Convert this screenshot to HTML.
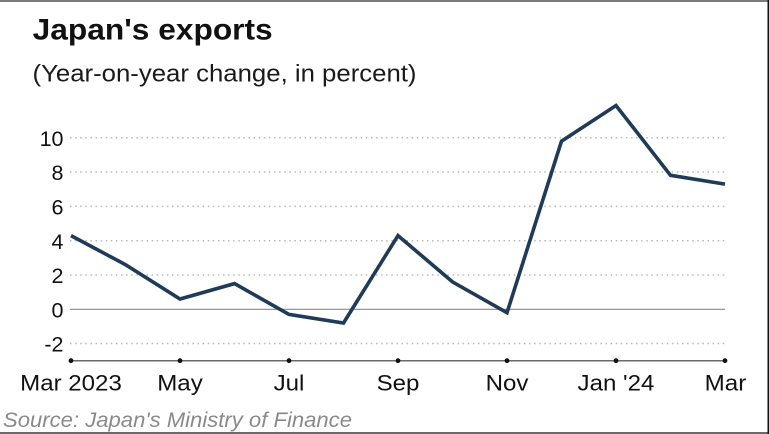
<!DOCTYPE html>
<html>
<head>
<meta charset="utf-8">
<style>
  html, body { margin: 0; padding: 0; background: #fff; }
  body { width: 769px; height: 434px; overflow: hidden; }
  svg { display: block; }
  text { font-family: "Liberation Sans", Arial, sans-serif; }
</style>
</head>
<body>
<svg width="769" height="434" viewBox="0 0 769 434" xmlns="http://www.w3.org/2000/svg">
  <rect x="0" y="0" width="769" height="434" fill="#fff"/>
  <!-- frame lines -->
  <rect x="0" y="0" width="769" height="2" fill="#7a7a7a"/>
  <rect x="0" y="432" width="769" height="2" fill="#6a6a6a"/>
  <rect x="767.5" y="0" width="1.5" height="434" fill="#111"/>

  <!-- title -->
  <text x="32.7" y="39.5" font-size="29.6" font-weight="bold" fill="#111" textLength="240" lengthAdjust="spacingAndGlyphs">Japan's exports</text>
  <text x="32.5" y="81.5" font-size="24" fill="#1a1a1a" textLength="384" lengthAdjust="spacingAndGlyphs">(Year-on-year change, in percent)</text>

  <!-- dotted gridlines -->
  <g stroke="#b8b8b8" stroke-width="1.5" stroke-dasharray="1.5 3.6" fill="none">
    <line x1="70" y1="137.8" x2="725" y2="137.8"/>
    <line x1="70" y1="172" x2="725" y2="172"/>
    <line x1="70" y1="206.4" x2="725" y2="206.4"/>
    <line x1="70" y1="240.7" x2="725" y2="240.7"/>
    <line x1="70" y1="275" x2="725" y2="275"/>
    <line x1="70" y1="343.5" x2="725" y2="343.5"/>
  </g>
  <!-- zero line -->
  <line x1="70" y1="309.3" x2="725" y2="309.3" stroke="#8a8a8a" stroke-width="1.2"/>

  <!-- y labels -->
  <g font-size="21.5" fill="#111" text-anchor="end">
    <text x="63.5" y="146">10</text>
    <text x="63.5" y="180.2">8</text>
    <text x="63.5" y="214.6">6</text>
    <text x="63.5" y="248.9">4</text>
    <text x="63.5" y="283.2">2</text>
    <text x="63.5" y="317.5">0</text>
    <text x="63.5" y="351.7">-2</text>
  </g>

  <!-- x axis -->
  <line x1="71" y1="360.7" x2="725" y2="360.7" stroke="#6a6a6a" stroke-width="1.5"/>
  <g fill="#111">
    <circle cx="71" cy="360.7" r="2.4"/>
    <circle cx="180" cy="360.7" r="2.4"/>
    <circle cx="289" cy="360.7" r="2.4"/>
    <circle cx="398" cy="360.7" r="2.4"/>
    <circle cx="507" cy="360.7" r="2.4"/>
    <circle cx="616" cy="360.7" r="2.4"/>
    <circle cx="725" cy="360.7" r="2.4"/>
  </g>

  <!-- x labels -->
  <g font-size="22.5" fill="#111" text-anchor="middle">
    <text x="71" y="390.5" textLength="101.7" lengthAdjust="spacingAndGlyphs">Mar 2023</text>
    <text x="180" y="390.5" textLength="45.5" lengthAdjust="spacingAndGlyphs">May</text>
    <text x="289" y="390.5" textLength="30.8" lengthAdjust="spacingAndGlyphs">Jul</text>
    <text x="398" y="390.5" textLength="42.8" lengthAdjust="spacingAndGlyphs">Sep</text>
    <text x="507" y="390.5" textLength="42.8" lengthAdjust="spacingAndGlyphs">Nov</text>
    <text x="616" y="390.5" textLength="76.9" lengthAdjust="spacingAndGlyphs">Jan '24</text>
    <text x="725.5" y="390.5" textLength="41.6" lengthAdjust="spacingAndGlyphs">Mar</text>
  </g>

  <!-- series -->
  <polyline fill="none" stroke="#1f3b57" stroke-width="3.6" stroke-linejoin="miter" stroke-miterlimit="6" stroke-linecap="butt"
    points="71,235.6 125.5,264.7 180,299 234.5,283.6 289,314.4 343.5,323 398,235.6 452.5,281.9 507,312.7 561.5,141.2 616,105.5 670.5,175.3 725,184.1"/>

  <!-- source -->
  <text x="3" y="427" font-size="21" font-style="italic" fill="#8a8a8a" textLength="349" lengthAdjust="spacingAndGlyphs">Source: Japan's Ministry of Finance</text>
</svg>
</body>
</html>
